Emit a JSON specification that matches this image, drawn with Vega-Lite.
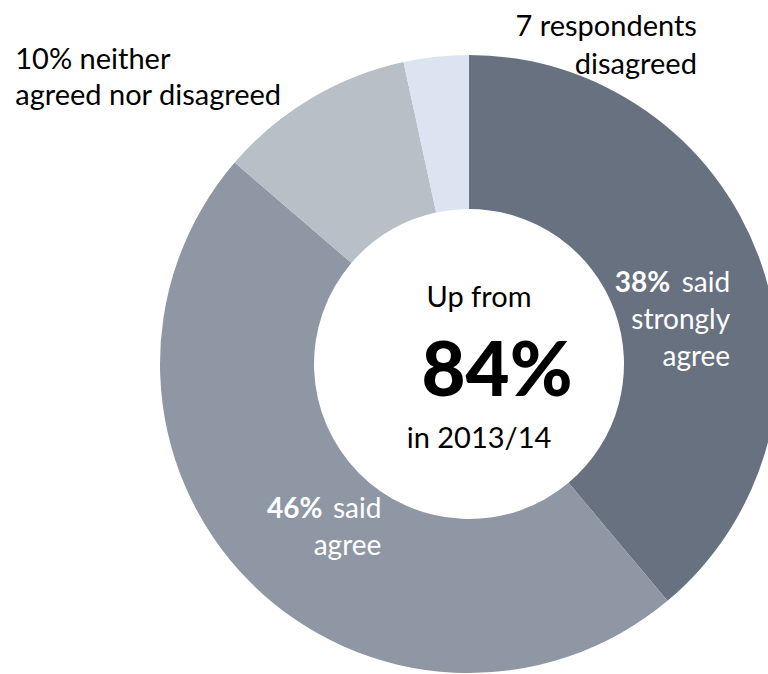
{
  "$schema": "https://vega.github.io/schema/vega-lite/v6.json",
  "autosize": {"type": "none"},
  "padding": {"left": 170, "top": 54, "right": 0, "bottom": 0},
  "width": 598,
  "height": 620,
  "background": "#ffffff",
  "config": {"view": {"stroke": null}, "text": {"font": "Lato"}},
  "data": {
    "values": [
      {"response": "Strongly agree", "share": 38.9, "order": 1, "pct": "38%", "word": "said", "line2": "strongly", "line3": "agree"},
      {"response": "Agree", "share": 47.4, "order": 2, "pct": "46%", "word": "said", "line2": "agree", "line3": ""},
      {"response": "Neither", "share": 10.3, "order": 3, "pct": "", "word": "", "line2": "10% neither", "line3": "agreed nor disagreed"},
      {"response": "Disagree", "share": 3.4, "order": 4, "pct": "", "word": "", "line2": "7 respondents", "line3": "disagreed"}
    ]
  },
  "encoding": {
    "theta": {"field": "share", "type": "quantitative", "stack": true},
    "order": {"field": "order", "type": "quantitative"}
  },
  "layer": [
    {
      "mark": {"type": "arc", "outerRadius": 309, "innerRadius": 155},
      "encoding": {
        "color": {
          "field": "response", "type": "nominal", "legend": null,
          "scale": {"domain": ["Strongly agree", "Agree", "Neither", "Disagree"], "range": ["#68717f", "#8e97a3", "#b9bfc7", "#dbe4f0"]}
        }
      }
    },
    {
      "mark": {"type": "text", "radius": 230, "align": "right", "baseline": "alphabetic", "fontSize": 28, "fontWeight": "bold", "color": "#ffffff", "dx": -15, "dy": 7},
      "encoding": {"text": {"condition": {"test": "datum.response === 'Strongly agree'", "field": "pct"}, "value": ""}}
    },
    {
      "mark": {"type": "text", "radius": 230, "align": "right", "baseline": "alphabetic", "fontSize": 28, "color": "#ffffff", "dx": 45, "dy": 7},
      "encoding": {"text": {"condition": {"test": "datum.response === 'Strongly agree'", "field": "word"}, "value": ""}}
    },
    {
      "mark": {"type": "text", "radius": 230, "align": "right", "baseline": "alphabetic", "fontSize": 28, "color": "#ffffff", "dx": 45, "dy": 44},
      "encoding": {"text": {"condition": {"test": "datum.response === 'Strongly agree'", "field": "line2"}, "value": ""}}
    },
    {
      "mark": {"type": "text", "radius": 230, "align": "right", "baseline": "alphabetic", "fontSize": 28, "color": "#ffffff", "dx": 45, "dy": 81},
      "encoding": {"text": {"condition": {"test": "datum.response === 'Strongly agree'", "field": "line3"}, "value": ""}}
    },
    {
      "mark": {"type": "text", "radius": 230, "align": "right", "baseline": "alphabetic", "fontSize": 28, "fontWeight": "bold", "color": "#ffffff", "dx": 17, "dy": -8},
      "encoding": {"text": {"condition": {"test": "datum.response === 'Agree'", "field": "pct"}, "value": ""}}
    },
    {
      "mark": {"type": "text", "radius": 230, "align": "right", "baseline": "alphabetic", "fontSize": 28, "color": "#ffffff", "dx": 76, "dy": -8},
      "encoding": {"text": {"condition": {"test": "datum.response === 'Agree'", "field": "word"}, "value": ""}}
    },
    {
      "mark": {"type": "text", "radius": 230, "align": "right", "baseline": "alphabetic", "fontSize": 28, "color": "#ffffff", "dx": 76, "dy": 29},
      "encoding": {"text": {"condition": {"test": "datum.response === 'Agree'", "field": "line2"}, "value": ""}}
    },
    {
      "mark": {"type": "text", "radius": 320, "align": "left", "baseline": "alphabetic", "fontSize": 29, "color": "#000000", "dx": -290, "dy": -20},
      "encoding": {"text": {"condition": {"test": "datum.response === 'Neither'", "field": "line2"}, "value": ""}}
    },
    {
      "mark": {"type": "text", "radius": 320, "align": "left", "baseline": "alphabetic", "fontSize": 29, "color": "#000000", "dx": -290, "dy": 16},
      "encoding": {"text": {"condition": {"test": "datum.response === 'Neither'", "field": "line3"}, "value": ""}}
    },
    {
      "mark": {"type": "text", "radius": 320, "align": "right", "baseline": "alphabetic", "fontSize": 29, "color": "#000000", "dx": 262, "dy": -10},
      "encoding": {"text": {"condition": {"test": "datum.response === 'Disagree'", "field": "line2"}, "value": ""}}
    },
    {
      "mark": {"type": "text", "radius": 320, "align": "right", "baseline": "alphabetic", "fontSize": 29, "color": "#000000", "dx": 262, "dy": 28},
      "encoding": {"text": {"condition": {"test": "datum.response === 'Disagree'", "field": "line3"}, "value": ""}}
    },
    {
      "data": {"values": [{"note": "Up from"}]},
      "mark": {"type": "text", "align": "center", "baseline": "alphabetic", "fontSize": 29, "color": "#000000", "dx": 10, "dy": -57},
      "encoding": {"theta": null, "order": null, "text": {"field": "note"}}
    },
    {
      "data": {"values": [{"note": "84%"}]},
      "mark": {"type": "text", "align": "center", "baseline": "alphabetic", "fontSize": 76, "fontWeight": 900, "color": "#000000", "dx": 28, "dy": 32},
      "encoding": {"theta": null, "order": null, "text": {"field": "note"}}
    },
    {
      "data": {"values": [{"note": "in 2013/14"}]},
      "mark": {"type": "text", "align": "center", "baseline": "alphabetic", "fontSize": 29, "color": "#000000", "dx": 10, "dy": 84},
      "encoding": {"theta": null, "order": null, "text": {"field": "note"}}
    }
  ]
}
